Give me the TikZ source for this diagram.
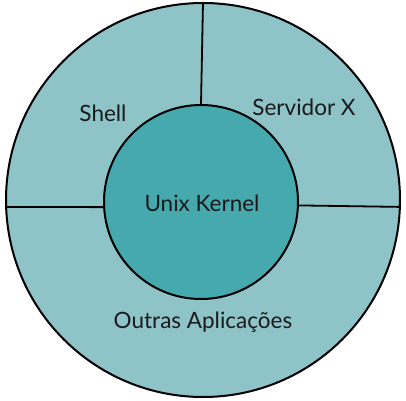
\documentclass[tikz,border=0pt]{standalone}
\usepackage{fontspec}
\setmainfont{Lato}
\definecolor{ringc}{HTML}{8EC3C8}
\definecolor{corec}{HTML}{45A9AD}
\definecolor{txtc}{HTML}{1A1A1A}
\begin{document}
\begin{tikzpicture}[x=1pt,y=1pt,
  ring/.style={circle,draw=black,line width=2pt,fill=ringc,minimum size=394pt,inner sep=0pt},
  core/.style={circle,draw=black,line width=2pt,fill=corec,minimum size=194pt,inner sep=0pt},
  divider/.style={draw=black,line width=1.8pt},
  lbl/.style={text=txtc,font=\fontsize{22.5}{27}\selectfont,inner sep=0pt}]
\useasboundingbox (0,0) rectangle (406,400);
\node[ring] (outer) at (203,200) {};
\node[core] (inner) at (201,198) {};
\draw[divider] (inner.90.6) -- (outer.90.9);
\draw[divider] (inner.183.5) -- (outer.182.3);
\draw[divider] (inner.358.8) -- (outer.358.8);
\node[lbl] (kernel) at (202,197) {Unix Kernel};
\node[lbl] (shell) at (103,287) {Shell};
\node[lbl] (xserver) at (304,293) {Servidor X};
\node[lbl] (apps) at (203,78) {Outras Aplicações};
\end{tikzpicture}
\end{document}
